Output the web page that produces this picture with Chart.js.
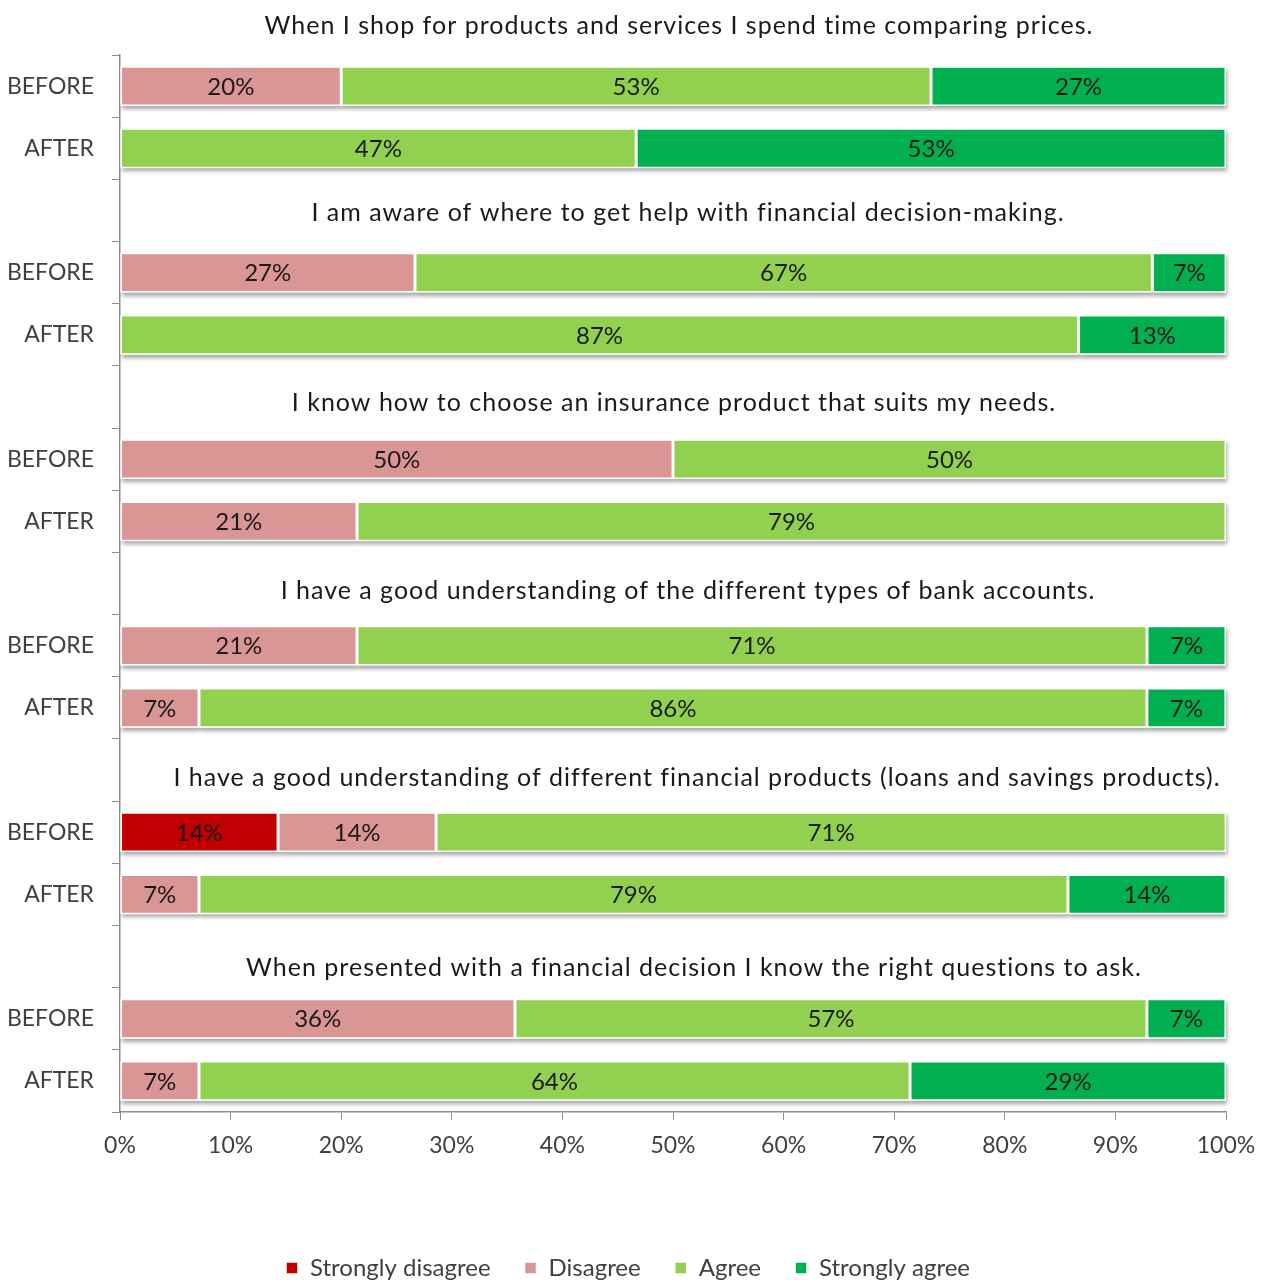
<!DOCTYPE html>
<html>
<head>
<meta charset="utf-8">
<script src="https://cdn.jsdelivr.net/npm/chart.js@4.4.1/dist/chart.umd.min.js"></script>
<style>
  html, body { margin: 0; padding: 0; background: #ffffff; }
  #wrap { width: 1269px; height: 1280px; position: relative; }
</style>
</head>
<body>
<div id="wrap"><canvas id="surveyChart"></canvas></div>
<script>
// Survey statements, one per group of BEFORE / AFTER bars
const statements = [
    'When I shop for products and services I spend time comparing prices.',
    'I am aware of where to get help with financial decision-making.',
    'I know how to choose an insurance product that suits my needs.',
    'I have a good understanding of the different types of bank accounts.',
    'I have a good understanding of different financial products (loans and savings products).',
    'When presented with a financial decision I know the right questions to ask.'
];
const phases = ['BEFORE', 'AFTER'];

// Share of respondents (%), ordered BEFORE, AFTER for each statement
const stronglyDisagree = [0, 0, 0, 0, 0, 0, 0, 0, 14.29, 0, 0, 0];
const disagree = [20, 0, 26.67, 0, 50, 21.43, 21.43, 7.14, 14.29, 7.14, 35.71, 7.14];
const agree = [53.33, 46.67, 66.67, 86.67, 50, 78.57, 71.43, 85.71, 71.43, 78.57, 57.14, 64.29];
const stronglyAgree = [26.67, 53.33, 6.67, 13.33, 0, 0, 7.14, 7.14, 0, 14.29, 7.14, 28.57];

const xTicks = [0, 10, 20, 30, 40, 50, 60, 70, 80, 90, 100];

// Heading text boxes sit slightly off the row centres
const headingShiftX = [6, 15, 1, 15, 24, 21];
const headingShiftY = [1, 2, 5, 6, 7, 10];
const legendShiftX = 15;

const FONT = 'Lato';
const TEXT = '#404040';
const AXIS = '#8c8c8c';

// Rows: BEFORE, AFTER, then an empty row that holds the next statement
const rowLabels = [];
const rowIndex = [];
statements.forEach((s, i) => {
    phases.forEach((p, j) => {
        rowLabels.push(p);
        rowIndex.push(i * 2 + j);
    });
    if (i < statements.length - 1) {
        rowLabels.push('');
        rowIndex.push(-1);
    }
});
const toRows = arr => rowIndex.map(k => (k < 0 ? null : arr[k]));

// Soft shadow under each bar segment
const barShadow = {
    id: 'barShadow',
    beforeDatasetsDraw(chart) {
        const ctx = chart.ctx;
        ctx.save();
        ctx.shadowColor = 'rgba(0,0,0,0.35)';
        ctx.shadowBlur = 4;
        ctx.shadowOffsetX = 1;
        ctx.shadowOffsetY = 3;
        ctx.fillStyle = '#ffffff';
        chart.data.datasets.forEach((ds, di) => {
            chart.getDatasetMeta(di).data.forEach((el, i) => {
                if (!ds.data[i]) return;
                const left = Math.min(el.x, el.base);
                const h = el.height;
                ctx.fillRect(left, el.y - h / 2, Math.abs(el.x - el.base), h);
            });
        });
        ctx.restore();
    }
};

// Percentage text centred in each segment
const segmentLabels = {
    id: 'segmentLabels',
    afterDatasetsDraw(chart) {
        const ctx = chart.ctx;
        ctx.save();
        ctx.font = '24px ' + FONT;
        ctx.fillStyle = '#1a1a1a';
        ctx.textAlign = 'center';
        ctx.textBaseline = 'middle';
        chart.data.datasets.forEach((ds, di) => {
            chart.getDatasetMeta(di).data.forEach((el, i) => {
                const v = ds.data[i];
                if (!v) return;
                ctx.fillText(Math.round(v) + '%', (el.x + el.base) / 2, el.y + 1);
            });
        });
        ctx.restore();
    }
};

// Statement headings above each pair of bars
const headings = {
    id: 'headings',
    afterLayout(chart) {
        // nudge the legend row a little to the right
        if (chart.legend) {
            chart.legend.left += legendShiftX;
            chart.legend.right += legendShiftX;
        }
    },
    afterDraw(chart) {
        const ctx = chart.ctx;
        const y = chart.scales.y;
        const area = chart.chartArea;
        const rowH = y.getPixelForValue(1) - y.getPixelForValue(0);
        const cx = (area.left + area.right) / 2;
        ctx.save();
        ctx.font = '25px ' + FONT;
        ctx.letterSpacing = '1px';
        ctx.fillStyle = '#1a1a1a';
        ctx.textAlign = 'center';
        ctx.textBaseline = 'alphabetic';
        statements.forEach((s, i) => {
            const mid = i === 0 ? area.top - rowH / 2 : y.getPixelForValue(i * 3 - 1);
            ctx.fillText(s, cx + headingShiftX[i], mid + headingShiftY[i] + 9);
        });
        ctx.restore();
    }
};

new Chart(document.getElementById('surveyChart'), {
    type: 'bar',
    data: {
        labels: rowLabels,
        datasets: [
            { label: 'Strongly disagree', data: toRows(stronglyDisagree), backgroundColor: '#c00000' },
            { label: 'Disagree', data: toRows(disagree), backgroundColor: '#d99694' },
            { label: 'Agree', data: toRows(agree), backgroundColor: '#92d050' },
            { label: 'Strongly agree', data: toRows(stronglyAgree), backgroundColor: '#00b050' }
        ].map(ds => Object.assign(ds, {
            borderColor: '#ffffff',
            borderWidth: 1.5,
            borderSkipped: false,
            barPercentage: 0.64,
            categoryPercentage: 1
        }))
    },
    options: {
        indexAxis: 'y',
        responsive: true,
        maintainAspectRatio: false,
        animation: false,
        layout: { padding: { top: 55, right: 43, left: 0, bottom: -10 } },
        scales: {
            x: {
                stacked: true,
                min: 0,
                max: 100,
                afterBuildTicks: s => { s.ticks = xTicks.map(v => ({ value: v })); },
                afterFit: s => { s.height = 110; },
                grid: { drawOnChartArea: false, tickLength: 8, color: AXIS },
                border: { color: AXIS, width: 1.5 },
                ticks: {
                    color: TEXT,
                    font: { family: FONT, size: 23 },
                    padding: 12,
                    callback: v => v + '%'
                }
            },
            y: {
                stacked: true,
                afterFit: s => { s.width = 120; },
                grid: { drawOnChartArea: false, tickLength: 8, color: AXIS, offset: true },
                border: { color: AXIS, width: 1.5 },
                ticks: {
                    color: TEXT,
                    font: { family: FONT, size: 23 },
                    padding: 18
                }
            }
        },
        plugins: {
            tooltip: { enabled: false },
            legend: {
                position: 'bottom',
                labels: {
                    color: TEXT,
                    font: { family: FONT, size: 24 },
                    boxWidth: 12,
                    boxHeight: 12,
                    padding: 34
                }
            }
        }
    },
    plugins: [barShadow, segmentLabels, headings]
});
</script>
</body>
</html>
